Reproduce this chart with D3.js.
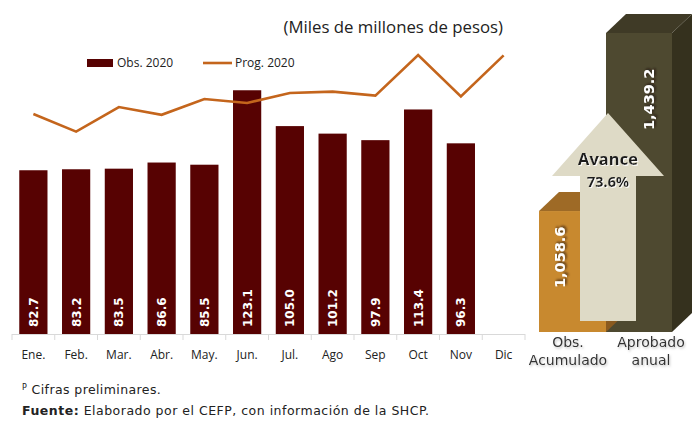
<!DOCTYPE html>
<html><head><meta charset="utf-8">
<script src="https://cdn.jsdelivr.net/npm/d3@7"></script>
<style>body{margin:0;background:#fff}svg{display:block}</style>
</head><body>
<svg id="c" width="694" height="421"></svg>
<script>
const months = ["Ene.","Feb.","Mar.","Abr.","May.","Jun.","Jul.","Ago","Sep","Oct","Nov","Dic"];
const obs2020 = [82.7,83.2,83.5,86.6,85.5,123.1,105.0,101.2,97.9,113.4,96.3,null];
const prog2020 = [111.1,102.2,114.6,110.7,118.7,116.7,121.7,122.4,120.4,140.9,120.0,140.7];
const summaryCats = ["Obs. Acumulado","Aprobado anual"];
const summaryVals = [1058.6,1439.2];
const avance = "73.6%";

const svg = d3.select("#c");
const FONT = "'Open Sans', sans-serif";
const DV = "'DejaVu Sans', sans-serif";

const defs = svg.append("defs");
const f1 = defs.append("filter").attr("id","shDark").attr("x","-20%").attr("y","-20%").attr("width","140%").attr("height","140%");
f1.append("feDropShadow").attr("dx",1.5).attr("dy",1.5).attr("stdDeviation",0.8).attr("flood-color","#1a1408").attr("flood-opacity",0.7);
const f2 = defs.append("filter").attr("id","shLight").attr("x","-20%").attr("y","-20%").attr("width","140%").attr("height","140%");
f2.append("feDropShadow").attr("dx",1).attr("dy",1.5).attr("stdDeviation",0.8).attr("flood-color","#999").attr("flood-opacity",0.6);
const f3 = defs.append("filter").attr("id","shWhite").attr("x","-20%").attr("y","-20%").attr("width","140%").attr("height","140%");
f3.append("feDropShadow").attr("dx",1).attr("dy",1).attr("stdDeviation",0.6).attr("flood-color","#fff").attr("flood-opacity",0.9);

// Title
svg.append("text").attr("x",503).attr("y",33).attr("text-anchor","end")
  .attr("font-family",FONT).attr("font-size",16.8).attr("fill","#222")
  .text("(Miles de millones de pesos)");

// Scales
const x = d3.scaleBand().domain(months).range([12,525]).paddingInner(0.34).paddingOuter(0.17);
const y = d3.scaleLinear().domain([0,150]).range([334,334-150*1.98]);

// Bars
const barData = months.map((m,i)=>({m,v:obs2020[i]})).filter(d=>d.v!=null);
svg.append("g").selectAll("rect").data(barData).join("rect")
  .attr("x",d=>x(d.m)).attr("width",x.bandwidth())
  .attr("y",d=>y(d.v)).attr("height",d=>y(0)-y(d.v))
  .attr("fill","#570202");

// Bar labels
svg.append("g").selectAll("text").data(barData).join("text")
  .attr("transform",d=>`translate(${x(d.m)+x.bandwidth()/2+4.5},327) rotate(-90)`)
  .attr("font-family",DV).attr("font-weight","bold")
  .attr("font-size",12).attr("fill","#fff").text(d=>d.v.toFixed(1));

// Line
const line = d3.line().x((d,i)=>x(months[i])+x.bandwidth()/2).y(d=>y(d));
svg.append("path").datum(prog2020).attr("d",line)
  .attr("fill","none").attr("stroke","#c4651c").attr("stroke-width",2.6).attr("stroke-linejoin","miter");

// Axis
const axisG = svg.append("g").attr("transform","translate(0,334)");
const [r0,r1] = x.range();
axisG.append("line").attr("x1",r0).attr("x2",r1).attr("y1",0.5).attr("y2",0.5).attr("stroke","#d9d9d9");
const bounds = d3.range(months.length+1).map(i=>r0+i*x.step());
axisG.selectAll("line.t").data(bounds).join("line").attr("class","t")
  .attr("x1",d=>d).attr("x2",d=>d).attr("y1",0).attr("y2",6).attr("stroke","#d9d9d9");
axisG.selectAll("text").data(months).join("text")
  .attr("x",d=>x(d)+x.bandwidth()/2).attr("y",25).attr("text-anchor","middle")
  .attr("font-family",FONT).attr("font-size",12).attr("fill","#222").text(d=>d);

// Legend
svg.append("rect").attr("x",87).attr("y",59).attr("width",26).attr("height",8).attr("fill","#570202");
svg.append("text").attr("x",117).attr("y",67).attr("font-family",FONT).attr("font-size",12).attr("fill","#222").text("Obs. 2020");
svg.append("line").attr("x1",203).attr("x2",232).attr("y1",63).attr("y2",63).attr("stroke","#c4651c").attr("stroke-width",2.6);
svg.append("text").attr("x",235).attr("y",67).attr("font-family",FONT).attr("font-size",12).attr("fill","#222").text("Prog. 2020");

// Right 3D summary bars
const ys = d3.scaleLinear().domain([800,1439.2]).range([332,33]);
const fronts = [
  {x0:539,x1:606,front:"#c8892f",top:"#9e6a26",side:"#8a5a1f"},
  {x0:606,x1:672,front:"#4e4930",top:"#3f3a26",side:"#35311e"}
];
const dx=20, dy=19;
[1,0].forEach(i=>{
  const f=fronts[i], t=ys(summaryVals[i]), b=ys(800);
  const g=svg.append("g");
  g.append("path").attr("d",`M${f.x1},${t}L${f.x1+dx},${t-dy}L${f.x1+dx},${b-dy}L${f.x1},${b}Z`).attr("fill",f.side);
  g.append("path").attr("d",`M${f.x0},${t}L${f.x0+dx},${t-dy}L${f.x1+dx},${t-dy}L${f.x1},${t}Z`).attr("fill",f.top);
  g.append("rect").attr("x",f.x0).attr("y",t).attr("width",f.x1-f.x0).attr("height",b-t).attr("fill",f.front);
});

// Arrow
const shaftBottom = 321, headBase = 176, tip = 113;
svg.append("path").attr("d",`M580,${shaftBottom}L580,${headBase}L552,${headBase}L608,${tip}L664,${headBase}L636,${headBase}L636,${shaftBottom}Z`)
  .attr("fill","#dedac6");

// Value labels on 3D bars
const valLab = [{x:565,y:288,v:summaryVals[0]},{x:654,y:130,v:summaryVals[1]}];
valLab.forEach(d=>{
  svg.append("text").attr("transform",`translate(${d.x},${d.y}) rotate(-90)`)
    .attr("font-family",DV).attr("font-weight","bold").attr("font-size",14.5).attr("fill","#fff")
    .attr("filter","url(#shDark)").text(d3.format(",.1f")(d.v));
});

// Arrow text
[["Avance",165,16.5],[avance,187,14.5]].forEach(([t,yy,fs])=>{
  svg.append("text").attr("x",608).attr("y",yy).attr("text-anchor","middle").attr("font-family",FONT)
    .attr("font-weight","bold").attr("font-size",fs).attr("fill","#1e1e1e").attr("filter","url(#shWhite)").text(t);
});

// Category labels right
const catLines = [["Obs.","Acumulado"],["Aprobado","anual"]];
const catX = [568,651];
catLines.forEach((ls,i)=>{
  ls.forEach((l,j)=>{
    svg.append("text").attr("x",catX[i]).attr("y",347 + j*18).attr("text-anchor","middle").attr("font-family",DV)
      .attr("font-size",14).attr("fill","#333").attr("filter","url(#shLight)").text(l);
  });
});

// Footnotes
const fn1 = svg.append("text").attr("x",22).attr("y",394).attr("font-family",DV).attr("font-size",12.5).attr("letter-spacing",0.4).attr("fill","#222");
fn1.append("tspan").attr("font-size",8).attr("dy",-4).text("P");
fn1.append("tspan").attr("dy",4).text(" Cifras preliminares.");
const fn2 = svg.append("text").attr("x",22).attr("y",415).attr("font-family",DV).attr("font-size",12.5).attr("letter-spacing",0.5).attr("fill","#222");
fn2.append("tspan").attr("font-weight","bold").text("Fuente:");
fn2.append("tspan").text(" Elaborado por el CEFP, con información de la SHCP.");
</script>
</body></html>
